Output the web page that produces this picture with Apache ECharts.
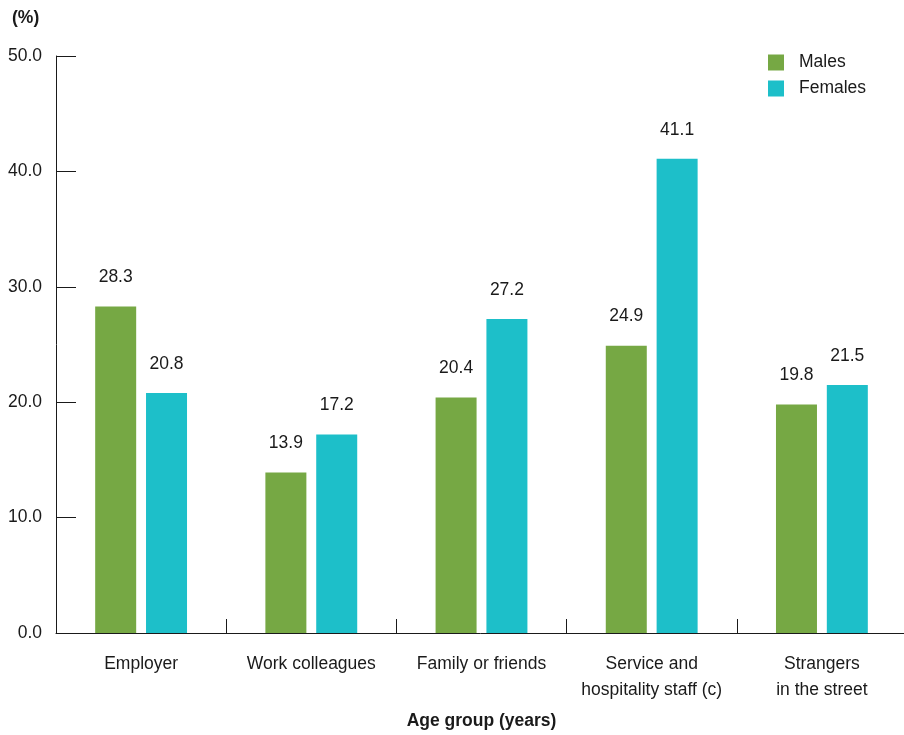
<!DOCTYPE html>
<html>
<head>
<meta charset="utf-8">
<script src="https://cdn.jsdelivr.net/npm/echarts@6/dist/echarts.min.js"></script>
<style>
  html, body { margin: 0; padding: 0; background: #fff; }
  #chart { width: 904px; height: 735px; }
</style>
</head>
<body>
<div id="chart"></div>
<script>
// Who the harassment came from, by sex (%)
const categories = ['Employer', 'Work colleagues', 'Family or friends', 'Service and\nhospitality staff (c)', 'Strangers\nin the street'];
const males = [28.3, 13.9, 20.4, 24.9, 19.8];
const females = [20.8, 17.2, 27.2, 41.1, 21.5];
const yTicks = [0, 10, 20, 30, 40, 50];

const FONT = 'Liberation Sans, Arial, sans-serif';
const FS = 17.5;
const INK = '#1a1a1a';

const chart = echarts.init(document.getElementById('chart'), null, { renderer: 'canvas' });

const valueLabel = {
  show: true,
  position: 'top',
  distance: 20,
  color: INK,
  fontFamily: FONT,
  fontSize: FS,
  formatter: p => p.value.toFixed(1)
};

chart.setOption({
  animation: false,
  backgroundColor: '#ffffff',
  textStyle: { fontFamily: FONT },
  grid: { left: 56, top: 56, width: 851, height: 577, containLabel: false, outerBoundsMode: 'none' },
  legend: {
    left: 768,
    top: 52,
    padding: 0,
    orient: 'vertical',
    itemWidth: 16,
    itemHeight: 16,
    itemGap: 5,
    icon: 'rect',
    textStyle: { fontFamily: FONT, fontSize: FS, color: INK, lineHeight: 21, padding: [0, 0, 0, 10] },
    data: ['Males', 'Females']
  },
  graphic: [
    { type: 'text', left: 12, top: 9, style: { text: '(%)', font: 'bold 17.5px ' + FONT, fill: INK } }
  ],
  xAxis: {
    type: 'category',
    data: categories,
    name: 'Age group (years)',
    nameLocation: 'middle',
    nameGap: 79,
    nameTextStyle: { fontFamily: FONT, fontSize: FS, fontWeight: 'bold', color: INK },
    axisLine: { lineStyle: { color: INK, width: 1 } },
    axisTick: { show: true, inside: true, length: 14, lineStyle: { color: INK } },
    axisLabel: { color: INK, fontFamily: FONT, fontSize: FS, margin: 18, lineHeight: 26, interval: 0 }
  },
  yAxis: {
    type: 'value',
    min: yTicks[0],
    max: yTicks[yTicks.length - 1],
    interval: 10,
    splitLine: { show: false },
    axisLine: { show: true, lineStyle: { color: INK, width: 1 } },
    axisTick: { show: true, inside: true, length: 20, lineStyle: { color: INK } },
    axisLabel: { color: INK, fontFamily: FONT, fontSize: FS, margin: 14, formatter: v => v.toFixed(1) }
  },
  series: [
    {
      name: 'Males', type: 'bar', data: males,
      barWidth: 41, barGap: '24%',
      itemStyle: { color: '#76a844' },
      label: valueLabel
    },
    {
      name: 'Females', type: 'bar', data: females,
      barWidth: 41, barGap: '24%',
      itemStyle: { color: '#1dbfc9' },
      label: valueLabel
    }
  ]
});
</script>
</body>
</html>
